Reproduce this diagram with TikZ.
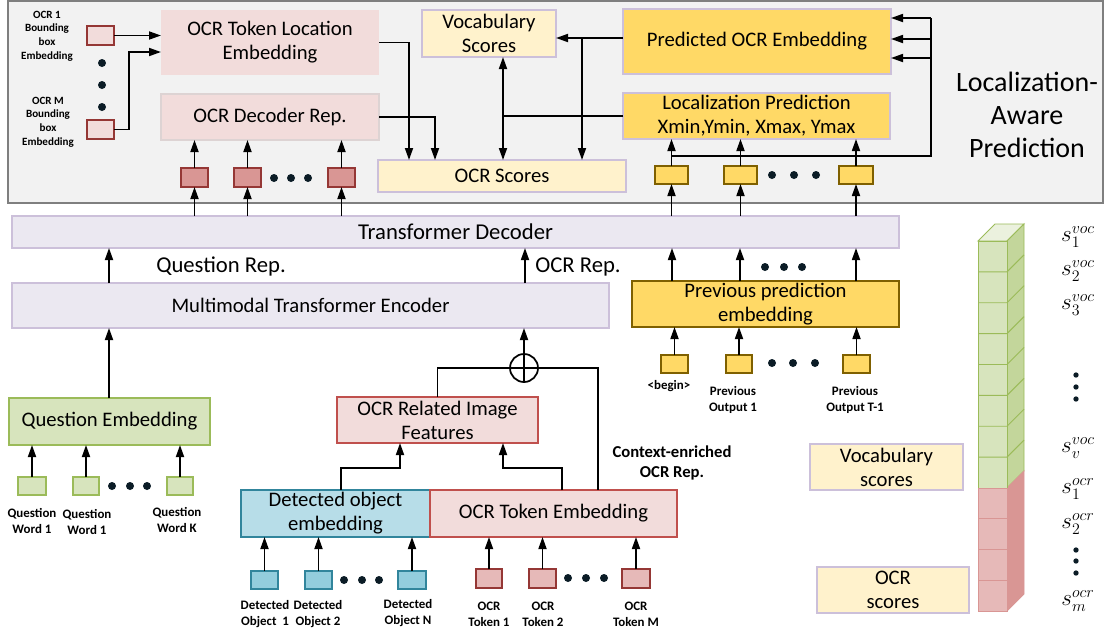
\documentclass[tikz,border=0pt]{standalone}
\usepackage{fontspec}
\setmainfont{Carlito}
\usetikzlibrary{arrows.meta,calc}
\definecolor{panelfill}{HTML}{F2F2F2}
\definecolor{panelline}{HTML}{7F7F7F}
\definecolor{pinkfill}{HTML}{F2DCDB}
\definecolor{pinkline}{HTML}{C0504D}
\definecolor{darkred}{HTML}{953735}
\definecolor{redfill}{HTML}{D99694}
\definecolor{redlight}{HTML}{E6B9B8}
\definecolor{paleyel}{HTML}{FFF2CC}
\definecolor{lav}{HTML}{CCC0DA}
\definecolor{gold}{HTML}{FFD966}
\definecolor{goldline}{HTML}{7F6000}
\definecolor{tfill}{HTML}{EBE8F1}
\definecolor{grfill}{HTML}{D7E4BD}
\definecolor{grline}{HTML}{9BBB59}
\definecolor{grside}{HTML}{C3D69B}
\definecolor{grtop}{HTML}{EBF1DE}
\definecolor{bluefill}{HTML}{B7DDE8}
\definecolor{bluebox}{HTML}{93CDDD}
\definecolor{blueline}{HTML}{31859C}
\definecolor{dotc}{HTML}{0B1C26}
\definecolor{greyline}{HTML}{DDD3D3}
\newcommand{\fmain}{\fontsize{15.5}{18}\selectfont}
\newcommand{\fbig}{\fontsize{17}{20}\selectfont}
\newcommand{\floc}{\fontsize{21}{24.75}\selectfont}
\newcommand{\flab}{\fontsize{9.7}{12}\selectfont\bfseries}
\newcommand{\ftiny}{\fontsize{8.3}{10.3}\selectfont\bfseries}
\newcommand{\fctx}{\fontsize{12.5}{15}\selectfont\bfseries}
\newcommand{\fmath}{\fontsize{17.5}{17.5}\selectfont}
\newcommand{\mkbox}[7]{\node[#1, anchor=north west, minimum width={(#5-#3)*0.75pt}, minimum height={(#6-#4)*0.75pt}] (#2) at (#3,#4) {#7};}
\begin{document}
\begin{tikzpicture}[x=0.75pt,y=-0.75pt,
 arr/.style={-{Triangle[length=9pt,width=6pt]}, line width=1.3pt},
 darr/.style={{Triangle[length=9pt,width=6pt]}-{Triangle[length=9pt,width=6pt]}, line width=1.3pt},
 ln/.style={line width=1.3pt},
 bx/.style={align=center, font=\fmain, line width=0.9pt, inner sep=1pt, outer sep=0pt},
 locbox/.style={bx, fill=pinkfill},
 drbox/.style={bx, fill=pinkfill, draw=greyline},
 creambox/.style={bx, fill=paleyel, draw=lav},
 goldbox/.style={bx, fill=gold, draw=lav},
 prevbox/.style={bx, fill=gold, draw=goldline},
 tbox/.style={bx, fill=tfill, draw=lav},
 greenbox/.style={bx, fill=grfill, draw=grline},
 redbox/.style={bx, fill=pinkfill, draw=pinkline},
 bluebig/.style={bx, fill=bluefill, draw=blueline},
 sm/.style={line width=0.9pt, inner sep=0pt, outer sep=0pt},
 smred/.style={sm, fill=redfill, draw=darkred},
 smpink/.style={sm, fill=pinkfill, draw=darkred},
 smyel/.style={sm, fill=gold, draw=goldline},
 smgreen/.style={sm, fill=grfill, draw=grline},
 smblue/.style={sm, fill=bluebox, draw=blueline},
 smocr/.style={sm, fill=redlight, draw=darkred},
 lab/.style={align=center, font=\flab, inner sep=0pt},
 tinylab/.style={align=center, font=\ftiny, inner sep=0pt},
 slab/.style={font=\fmath, inner sep=0pt},
 dotfill/.style={fill=dotc}
]
\fill[white] (0,0) rectangle (1107,633);
\useasboundingbox (0,0) rectangle (1107,633);

% ---------- top panel ----------
\mkbox{draw=panelline, fill=panelfill, line width=1pt, inner sep=0pt, outer sep=0pt}{panel}{8}{1}{1103}{203}{}

\mkbox{smpink}{bb1}{87}{26}{114}{45}{}
\mkbox{smpink}{bbM}{87}{120}{114}{139}{}
\node[tinylab] (lb1) at (47,36) {OCR 1\\Bounding\\box\\Embedding};
\node[tinylab] (lbM) at (48,122) {OCR M\\Bounding\\box\\Embedding};
\foreach \yy in {63,85,107} \fill[dotfill] (102,\yy) circle[radius=3pt];

\mkbox{locbox}{loc}{161}{10}{379}{75}{OCR Token Location\\Embedding}
\mkbox{drbox}{decrep}{161}{94}{379}{140}{OCR Decoder Rep.}
\mkbox{creambox}{vocab}{422}{10}{556}{57}{Vocabulary\\Scores}
\mkbox{goldbox}{pred}{623}{9}{891}{74}{Predicted OCR Embedding}
\mkbox{goldbox}{locpred}{623}{93}{890}{139}{Localization Prediction\\Xmin,Ymin, Xmax, Ymax}
\mkbox{creambox}{ocrs}{378}{160}{626}{192}{OCR Scores}

\mkbox{smred}{r1}{181}{168}{208}{187}{}
\mkbox{smred}{r2}{234}{168}{261}{187}{}
\mkbox{smred}{r3}{328}{168}{355}{187}{}
\foreach \xx in {274,291,308} \fill[dotfill] (\xx,178) circle[radius=3pt];

\mkbox{smyel}{y1}{655}{166}{688}{184}{}
\mkbox{smyel}{y2}{724}{166}{757}{184}{}
\mkbox{smyel}{y3}{839}{166}{873}{184}{}
\foreach \xx in {772,794,816} \fill[dotfill] (\xx,175) circle[radius=3pt];

\node[font=\floc, align=center, inner sep=0pt] (lap) at (1027,115) {Localization-\\Aware\\Prediction};

% top panel connectors
\coordinate (j1) at (129,52);
\draw[arr] (bb1.east) -- (bb1.east -| loc.west);
\draw[arr] (bbM.east) -| (j1) -- (j1 -| loc.west);
\foreach \n in {r1,r2,r3} \draw[arr] (\n.north) -- (\n.north |- decrep.south);
\foreach \n in {y1,y2,y3} \draw[arr] (\n.north) -- (\n.north |- locpred.south);
\coordinate (hr) at (931,156);
\draw[ln] (y1.north |- hr) -- (hr) -- (931,18);
\foreach \yy in {18,39,58} \draw[arr] (931,\yy) -- (pred.east |- 931,\yy);
\draw[arr] (loc.east) -| (409,0 |- ocrs.north);
\draw[arr] (decrep.east) -| (435,0 |- ocrs.north);
\draw[darr] (503,0 |- vocab.south) -- (503,0 |- ocrs.north);
\draw[ln] (locpred.west) -- (503,0 |- locpred.west);
\draw[arr] (pred.west |- 0,38) -- (vocab.east |- 0,38);
\draw[arr] (582,38) -- (582,0 |- ocrs.north);

% ---------- transformer ----------
\mkbox{tbox, font=\fbig}{dec}{12}{216}{899}{248}{Transformer Decoder}
\mkbox{tbox}{enc}{12}{283}{609}{328}{Multimodal Transformer Encoder}
\mkbox{prevbox}{prev}{632}{281}{899}{327}{Previous prediction\\embedding}
\node[font=\fbig, inner sep=0pt] (qrep) at (221,266) {Question Rep.};
\node[font=\fbig, inner sep=0pt] (orep) at (578,267) {OCR Rep.};

\foreach \n in {r1,r2,r3,y1,y2,y3} \draw[arr] (\n.south |- dec.north) -- (\n.south);
\draw[arr] (109,0 |- enc.north) -- (109,0 |- dec.south);
\draw[arr] (525,0 |- enc.north) -- (525,0 |- dec.south);
\foreach \xx in {672,740,856} \draw[arr] (\xx,0 |- prev.north) -- (\xx,0 |- dec.south);
\foreach \xx in {765,784,802} \fill[dotfill] (\xx,267) circle[radius=3pt];

\mkbox{smyel}{p1}{661}{355}{688}{373}{}
\mkbox{smyel}{p2}{726}{355}{752}{373}{}
\mkbox{smyel}{p3}{843}{355}{870}{373}{}
\foreach \xx in {772,793,815} \fill[dotfill] (\xx,363) circle[radius=3pt];
\foreach \n in {p1,p2,p3} \draw[arr] (\n.north) -- (\n.north |- prev.south);
\node[lab] (lbeg) at (669,386) {<begin>};
\node[lab] (lpo1) at (733,400) {Previous\\Output 1};
\node[lab] (lpoT) at (855,400) {Previous\\Output T-1};

% ---------- question branch ----------
\mkbox{greenbox}{qemb}{9}{398}{210}{445}{Question Embedding}
\draw[arr] (109,0 |- qemb.north) -- (109,0 |- enc.south);
\mkbox{smgreen}{q1}{18}{477}{46}{495}{}
\mkbox{smgreen}{q2}{73}{477}{99}{495}{}
\mkbox{smgreen}{q3}{167}{477}{193}{495}{}
\foreach \xx in {112,130,147} \fill[dotfill] (\xx,486) circle[radius=3pt];
\foreach \n in {q1,q2,q3} \draw[arr] (\n.north) -- (\n.north |- qemb.south);
\node[lab] (lq1) at (32,521) {Question\\Word 1};
\node[lab] (lq2) at (87,522) {Question\\Word 1};
\node[lab] (lq3) at (177,520) {Question\\Word K};

% ---------- OCR / object branch ----------
\node[circle, draw, line width=1.3pt, minimum size={28*0.75pt}, inner sep=0pt, outer sep=0pt] (oplus) at (524,368) {};
\draw[ln] (oplus.north) -- (oplus.south);
\draw[ln] (oplus.west) -- (oplus.east);
\mkbox{redbox}{orif}{337}{397}{538}{443}{OCR Related Image\\Features}
\mkbox{bluebig}{det}{241}{490}{430}{537}{Detected object\\embedding}
\mkbox{redbox}{ote}{430}{490}{677}{537}{OCR Token Embedding}
\node[font=\fctx, align=center, inner sep=0pt] (ctx) at (672,463) {Context-enriched\\OCR Rep.};

\draw[arr] (oplus.north) -- (oplus.north |- enc.south);
\draw[ln] (oplus.west) -| (orif.north);
\draw[ln] (oplus.east) -| (598,0 |- ote.north);
\draw[arr] (341,0 |- det.north) |- (400,468) -- (400,0 |- orif.south);
\draw[arr] (562,0 |- ote.north) |- (503,468) -- (503,0 |- orif.south);

\mkbox{smblue}{d1}{251}{571}{278}{589}{}
\mkbox{smblue}{d2}{305}{571}{332}{589}{}
\mkbox{smblue}{dN}{398}{571}{426}{589}{}
\foreach \xx in {344,362,379} \fill[dotfill] (\xx,580) circle[radius=3pt];
\foreach \n in {d1,d2,dN} \draw[arr] (\n.north) -- (\n.north |- det.south);
\mkbox{smocr}{o1}{476}{569}{502}{588}{}
\mkbox{smocr}{o2}{529}{569}{556}{588}{}
\mkbox{smocr}{oM}{622}{569}{650}{588}{}
\foreach \xx in {568,586,604} \fill[dotfill] (\xx,578) circle[radius=3pt];
\foreach \n in {o1,o2,oM} \draw[arr] (\n.north) -- (\n.north |- ote.south);

\node[lab] (ld1) at (265,614) {Detected\\Object\ \ 1};
\node[lab] (ld2) at (318,614) {Detected\\Object 2};
\node[lab] (ldN) at (408,613) {Detected\\Object N};
\node[lab] (lo1) at (489,614) {OCR\\Token 1};
\node[lab] (lo2) at (543,614) {OCR\\Token 2};
\node[lab] (loM) at (636,614) {OCR\\Token M};

% ---------- right legend ----------
\mkbox{creambox}{vs}{810}{444}{963}{490}{Vocabulary\\scores}
\mkbox{creambox}{os}{817}{567}{969}{613}{OCR\\scores}

\filldraw[fill=grtop, draw=grline, line width=0.7pt] (978,241) -- (995,224) -- (1024,224) -- (1007,241) -- cycle;
\filldraw[fill=grside, draw=grline, line width=0.7pt] (1007,241) -- (1024,224) -- (1024,471) -- (1007,488) -- cycle;
\filldraw[fill=redfill, draw=redfill, line width=0.7pt] (1007,488) -- (1024,471) -- (1024,594) -- (1007,611) -- cycle;
\filldraw[fill=grfill, draw=grline, line width=0.7pt] (978,241) rectangle (1007,488);
\foreach \k in {1,...,7} {\pgfmathsetmacro\yy{241+\k*30.875}
  \draw[grline, line width=0.7pt] (978,\yy) -- (1007,\yy) -- (1024,{\yy-17});}
\filldraw[fill=redlight, draw=redfill, line width=0.7pt] (978,488) rectangle (1007,611);
\foreach \k in {1,2,3} {\pgfmathsetmacro\yy{488+\k*30.75}
  \draw[redfill, line width=0.7pt] (978,\yy) -- (1007,\yy);}

\node[slab] (sv1) at (1078,237) {$s_1^{voc}$};
\node[slab] (sv2) at (1078,271) {$s_2^{voc}$};
\node[slab] (sv3) at (1078,305) {$s_3^{voc}$};
\node[slab] (svv) at (1078,448) {$s_v^{voc}$};
\node[slab] (so1) at (1078,489) {$s_1^{ocr}$};
\node[slab] (so2) at (1078,524) {$s_2^{ocr}$};
\node[slab] (som) at (1078,601) {$s_m^{ocr}$};
\foreach \yy in {375,387,399,550,561,573} \fill[dotfill] (1076,\yy) circle[radius=2pt];
\end{tikzpicture}
\end{document}
